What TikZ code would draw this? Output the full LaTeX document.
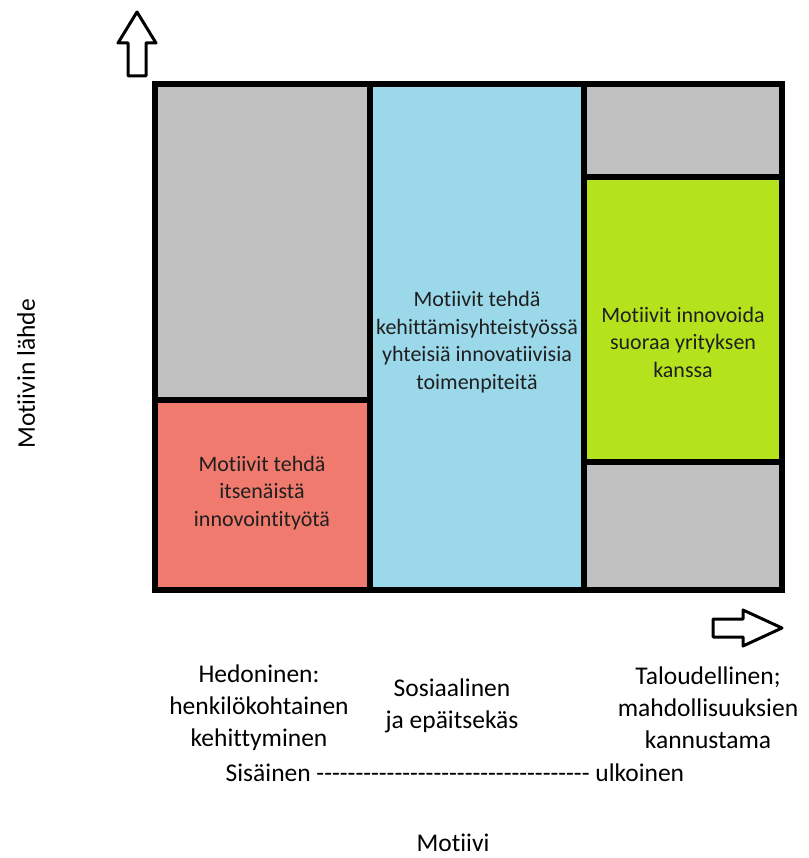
\documentclass[tikz,border=0pt]{standalone}
\usepackage{fontspec}
\setmainfont{Carlito}[Ligatures={TeXOff,CommonOff}]
\newcommand{\cellfont}{\fontsize{22}{27.5}\selectfont}
\newcommand{\axisfont}{\fontsize{25.5}{32}\selectfont}
\definecolor{cellgrey}{RGB}{192,192,192}
\definecolor{cellred}{RGB}{240,122,110}
\definecolor{cellblue}{RGB}{155,216,234}
\definecolor{cellgreen}{RGB}{180,227,30}
\begin{document}
\begin{tikzpicture}[
        x=1pt, y=-1pt,
        cell/.style={draw=black, line width=6pt},
        greycell/.style={cell, fill=cellgrey},
        redcell/.style={cell, fill=cellred},
        bluecell/.style={cell, fill=cellblue},
        greencell/.style={cell, fill=cellgreen},
        celltext/.style={font=\cellfont, align=center, text=black!88, inner sep=0pt},
        axistext/.style={font=\axisfont, align=center, inner sep=0pt},
        blockarrow/.style={draw=black, line width=3pt, line join=round, fill=white},
      ]
        \useasboundingbox (0,0) rectangle (808,858);

        % left column
        \draw[greycell] (155,84) rectangle (370,400);
        \draw[redcell] (155,400) rectangle (370,590);
        % middle column
        \draw[bluecell] (370,84) rectangle (584,590);
        % right column
        \draw[greycell] (584,84) rectangle (782,177);
        \draw[greencell] (584,177) rectangle (782,462);
        \draw[greycell] (584,462) rectangle (782,590);

        % texts in the cells
        \node[celltext] (itse) at (262,493) {Motiivit tehdä\\itsenäistä\\innovointityötä};
        \node[celltext] (yhteis) at (477,342) {Motiivit tehdä\\kehittämisyhteistyössä\\yhteisiä innovatiivisia\\toimenpiteitä};
        \node[celltext] (suoraa) at (683,342) {Motiivit innovoida\\suoraa yrityksen\\kanssa};

        % axis arrows
        \draw[blockarrow] (128,76) -- (128,43) -- (118,43) -- (137,12) -- (156,43) -- (146,43) -- (146,76) -- cycle;
        \draw[blockarrow] (713,619) -- (743,619) -- (743,610) -- (782,628) -- (743,646) -- (743,637) -- (713,637) -- cycle;

        % axis labels
        \node[axistext, rotate=90] (lahde) at (26,374) {Motiivin lähde};
        \node[axistext] (hedon) at (259,708) {Hedoninen:\\henkilökohtainen\\kehittyminen};
        \node[axistext] (sosiaal) at (452,706) {Sosiaalinen\\ja epäitsekäs};
        \node[axistext] (talous) at (708,708) {Taloudellinen;\\mahdollisuuksien\\kannustama};
        \node[axistext] (sisulk) at (455,773) {Sisäinen ----------------------------------- ulkoinen};
        \node[axistext] (motiivi) at (453,843) {Motiivi};
      \end{tikzpicture}
\end{document}
